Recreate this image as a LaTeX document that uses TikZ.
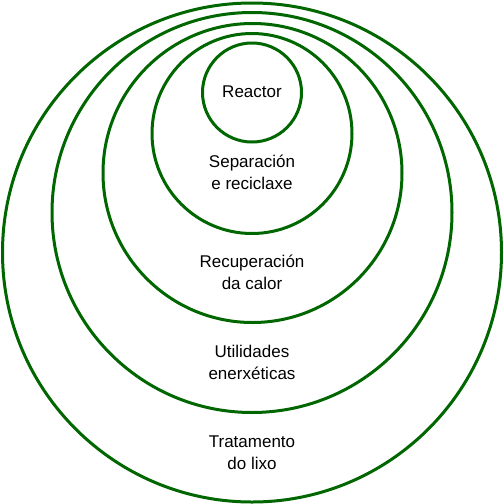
\documentclass[tikz,border=0pt]{standalone}
\usepackage{fontspec}
\setmainfont{Liberation Sans}
\definecolor{ringgreen}{HTML}{006600}
\begin{document}
\begin{tikzpicture}[x=1pt,y=-1pt,
  ring/.style={circle,draw=ringgreen,line width=3pt,inner sep=0pt},
  lbl/.style={align=center,inner sep=0pt,font=\fontsize{17}{22}\selectfont,text=black}]
\useasboundingbox (0,0) rectangle (504,504);
\node[ring,minimum size=499pt] (c5) at (252,252.5) {};
\node[ring,minimum size=400pt] (c4) at (252,212.5) {};
\node[ring,minimum size=299pt] (c3) at (252.5,173) {};
\node[ring,minimum size=200pt] (c2) at (252,133.5) {};
\node[ring,minimum size=99pt] (c1) at (252,92.5) {};
\node[lbl] (t1) at (252,93.3) {Reactor\strut};
\node[lbl] (t2) at (252,173.6) {Separación\strut\\e reciclaxe\strut};
\node[lbl] (t3) at (252,274.3) {Recuperación\strut\\da calor\strut};
\node[lbl] (t4) at (252,363.6) {Utilidades\strut\\enerxéticas\strut};
\node[lbl] (t5) at (252,453.6) {Tratamento\strut\\do lixo\strut};
\end{tikzpicture}
\end{document}
